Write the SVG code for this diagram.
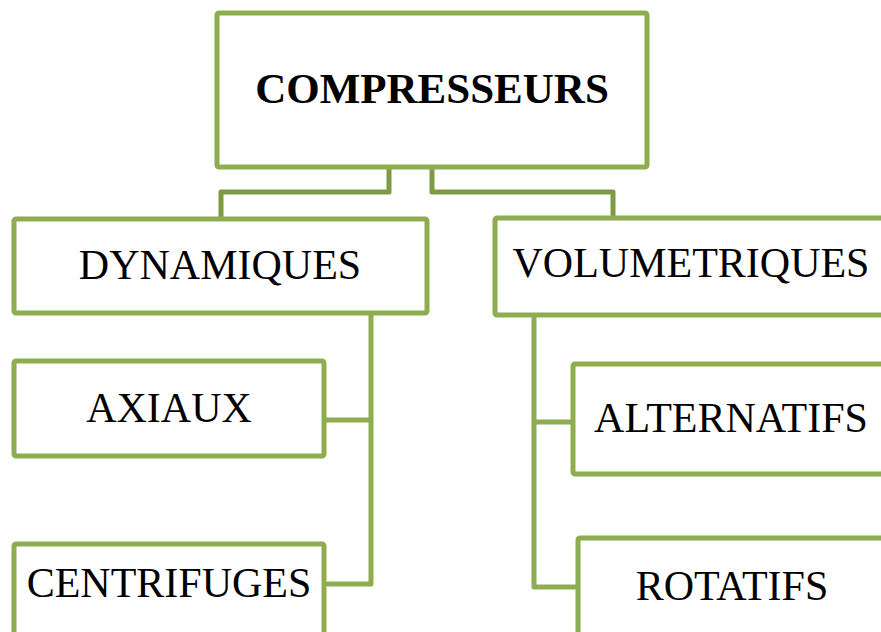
<svg xmlns="http://www.w3.org/2000/svg" width="881" height="632" viewBox="0 0 881 632">
  <style>
    .box { fill: #ffffff; stroke: #8EAC50; stroke-width: 5; }
    .lbl { font-family: "Liberation Serif", "Times New Roman", serif; font-size: 42px; fill: #000000; text-anchor: middle; }
    .root { font-weight: bold; font-size: 43px; }
    .link { fill: none; stroke: #8EAC50; stroke-width: 5; stroke-linejoin: round; }
    .link.top { stroke: #7D9A44; }
  </style>
  <rect width="881" height="632" fill="#ffffff"/>

  <g id="connectors">
    <path class="link top" d="M389 167 V192 H221 V219"/>
    <path class="link top" d="M432 167 V192 H613 V218"/>
    <path class="link" d="M371 313 V584 H324"/>
    <path class="link" d="M324 420 H371"/>
    <path class="link" d="M534 315 V587 H578"/>
    <path class="link" d="M534 422 H573"/>
  </g>

  <g id="compresseurs">
    <rect class="box" x="217" y="13" width="430" height="154" rx="2"/>
    <text class="lbl root" x="432" y="103">COMPRESSEURS</text>
  </g>

  <g id="dynamiques">
    <rect class="box" x="14" y="219" width="413" height="94" rx="2"/>
    <text class="lbl" x="220" y="279">DYNAMIQUES</text>
  </g>

  <g id="volumetriques">
    <rect class="box" x="495" y="218" width="393" height="97" rx="2"/>
    <text class="lbl" x="691" y="277">VOLUMETRIQUES</text>
  </g>

  <g id="axiaux">
    <rect class="box" x="14" y="361" width="310" height="95" rx="2"/>
    <text class="lbl" x="169" y="422">AXIAUX</text>
  </g>

  <g id="centrifuges">
    <rect class="box" x="14" y="544" width="310" height="110" rx="2"/>
    <text class="lbl" x="169" y="597">CENTRIFUGES</text>
  </g>

  <g id="alternatifs">
    <rect class="box" x="573" y="364" width="316" height="110" rx="2"/>
    <text class="lbl" x="731" y="432">ALTERNATIFS</text>
  </g>

  <g id="rotatifs">
    <rect class="box" x="578" y="538" width="309" height="120" rx="2"/>
    <text class="lbl" x="732" y="600">ROTATIFS</text>
  </g>
</svg>
